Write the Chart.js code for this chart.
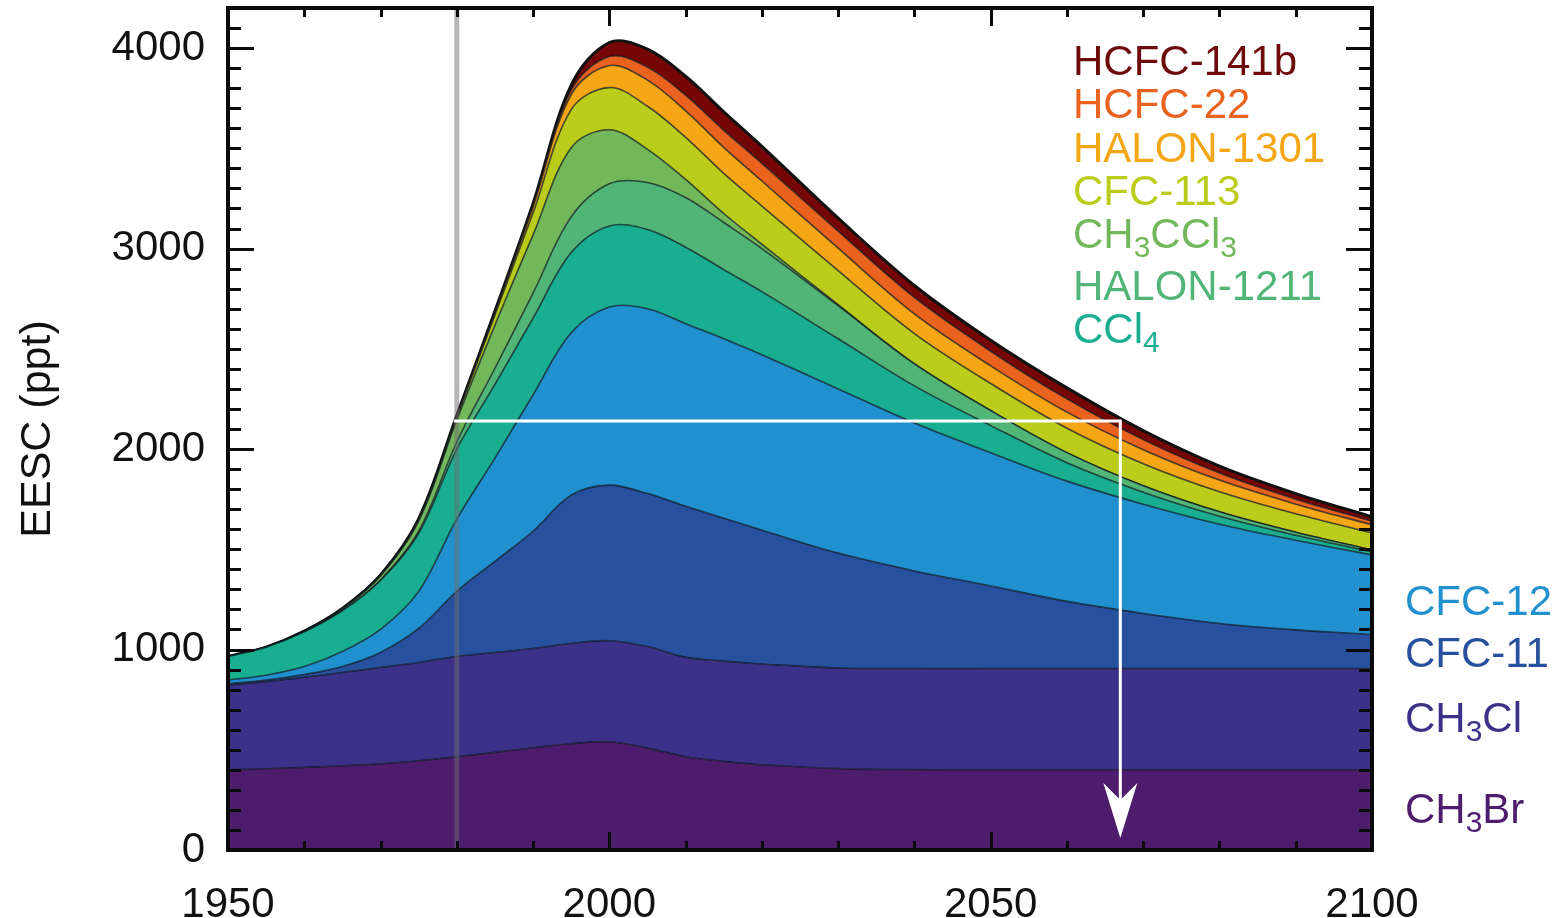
<!DOCTYPE html>
<html><head><meta charset="utf-8">
<script src="https://cdn.jsdelivr.net/npm/chart.js@4.4.1/dist/chart.umd.min.js"></script>
<style>html,body{margin:0;padding:0;background:#fff;}canvas{display:block;}</style>
</head><body>
<canvas id="c" width="1561" height="918"></canvas>
<script>
// ---- data (EESC contribution in ppt, by species) ----
const years     = [1950,1955,1960,1965,1970,1975,1980,1985,1990,1995,2000,2005,2010,2015,2020,2030,2040,2050,2060,2070,2080,2090,2100];
const CH3Br     = [400,405,412,420,430,445,465,487,510,530,540,508,465,442,425,406,401,400,400,400,400,400,400];
const CH3Cl     = [423,435,450,465,480,490,500,498,495,500,504,507,497,500,503,502,504,505,505,505,505,505,505];
const CFC11     = [7,8,13,30,75,170,325,455,585,740,776,763,753,713,667,573,487,412,335,275,225,193,170];
const CFC12     = [18,24,40,75,115,185,360,515,680,810,888,922,910,895,875,819,738,665,600,545,495,447,397];
const CCl4      = [117,140,173,204,245,290,350,368,383,400,405,395,382,345,315,250,185,135,92,60,40,25,15];
const HALON1211 = [0,0,0,0,2,10,35,80,125,178,210,235,248,235,215,165,110,75,50,32,22,15,10];
const CH3CCl3   = [0,0,3,8,20,50,110,215,290,345,270,165,90,45,22,5,1,0,0,0,0,0,0];
const CFC113    = [0,0,0,1,2,8,15,50,110,190,210,215,210,200,190,170,150,135,122,110,100,92,85];
const HALON1301 = [0,0,0,0,0,0,3,12,30,75,110,130,132,130,125,112,98,88,80,70,58,48,40];
const HCFC22    = [0,0,1,2,3,4,6,8,12,22,45,65,78,85,88,85,82,73,66,50,35,25,18];
const HCFC141b  = [0,0,0,0,0,0,0,0,5,25,70,90,95,92,85,65,60,55,55,45,35,28,22];

const seriesNames = ['CH3Br','CH3Cl','CFC-11','CFC-12','CCl4','HALON-1211','CH3CCl3','CFC-113','HALON-1301','HCFC-22','HCFC-141b'];
const xTickValues = [1950,2000,2050,2100];
const yTickValues = [0,1000,2000,3000,4000];
const yAxisTitle = 'EESC (ppt)';
const refYear = 1980;        // gray vertical line
const thresholdEESC = 2140;  // 1980 level (white line)
const recoveryYear = 2067;   // return to 1980 level
const arrowEndEESC = 60;

// ---- styles ----
const seriesColors = ['#4d1c6d','#3b3189','#27509f','#2190cf','#18ae8f','#52b578','#72b85b','#bccc1a','#f4a615','#e9621e','#760606'];
const FONT = "'Liberation Sans', Arial, Helvetica, sans-serif";
const seriesData = [CH3Br, CH3Cl, CFC11, CFC12, CCl4, HALON1211, CH3CCl3, CFC113, HALON1301, HCFC22, HCFC141b];
const last = seriesData.length - 1;

const datasets = seriesData.map((arr, i) => ({
  label: seriesNames[i],
  data: years.map((yr, j) => ({x: yr, y: arr[j]})),
  backgroundColor: seriesColors[i],
  borderColor: i === last ? '#111111' : 'rgba(12,22,30,0.72)',
  borderWidth: i === last ? 3 : 1.6,
  fill: i === 0 ? 'origin' : '-1',
  pointRadius: 0,
  tension: 0.35
}));

function drawRich(ctx, x, y, parts, color, size, subSize, subDrop) {
  ctx.fillStyle = color;
  ctx.textBaseline = 'alphabetic';
  ctx.textAlign = 'left';
  for (const [t, sub] of parts) {
    ctx.font = (sub ? subSize : size) + 'px ' + FONT;
    ctx.fillText(t, x, sub ? y + subDrop : y);
    x += ctx.measureText(t).width;
  }
}

const overlay = {
  id: 'overlay',
  afterDatasetsDraw(chart) {
    const {ctx, chartArea: ca, scales: {x, y}} = chart;
    ctx.save();
    // gray vertical reference line
    const gx = x.getPixelForValue(refYear);
    ctx.fillStyle = 'rgba(110,110,110,0.5)';
    ctx.fillRect(gx - 2.5, ca.top, 5, ca.bottom - ca.top);
    // white line + arrow
    const ty = y.getPixelForValue(thresholdEESC);
    const ax = x.getPixelForValue(recoveryYear);
    const ay = y.getPixelForValue(arrowEndEESC);
    ctx.strokeStyle = '#ffffff';
    ctx.lineWidth = 3;
    ctx.beginPath();
    ctx.moveTo(gx - 3, ty); ctx.lineTo(ax, ty); ctx.lineTo(ax, ay - 35);
    ctx.stroke();
    ctx.fillStyle = '#ffffff';
    ctx.beginPath();
    ctx.moveTo(ax, ay); ctx.lineTo(ax - 17, ay - 55); ctx.lineTo(ax, ay - 38); ctx.lineTo(ax + 17, ay - 55);
    ctx.closePath(); ctx.fill();
    // frame
    ctx.strokeStyle = '#0a0a0a';
    ctx.lineWidth = 4;
    ctx.strokeRect(ca.left, ca.top, ca.right - ca.left, ca.bottom - ca.top);
    // inward ticks
    ctx.lineWidth = 3;
    ctx.beginPath();
    for (let v = 100; v <= y.max; v += 100) {
      const py = Math.round(y.getPixelForValue(v)) + 0.5;
      const len = v % 1000 === 0 ? 26 : 13;
      ctx.moveTo(ca.left, py); ctx.lineTo(ca.left + len, py);
      ctx.moveTo(ca.right, py); ctx.lineTo(ca.right - len, py);
    }
    for (let yr = 1960; yr < 2100; yr += 10) {
      const px = Math.round(x.getPixelForValue(yr)) + 0.5;
      const len = yr % 50 === 0 ? 18 : 9;
      ctx.moveTo(px, ca.bottom); ctx.lineTo(px, ca.bottom - len);
      ctx.moveTo(px, ca.top); ctx.lineTo(px, ca.top + len);
    }
    ctx.stroke();
    ctx.restore();
  },
  afterDraw(chart) {
    const ctx = chart.ctx;
    ctx.save();
    const S = 42, SS = 30, D = 9;
    const L = 1073;
    drawRich(ctx, L, 75,  [['HCFC-141b',0]], '#6e0a0a', S, SS, D);
    drawRich(ctx, L, 118, [['HCFC-22',0]], '#e9621e', S, SS, D);
    drawRich(ctx, L, 162, [['HALON-1301',0]], '#f4a615', S, SS, D);
    drawRich(ctx, L, 205, [['CFC-113',0]], '#bccc1a', S, SS, D);
    drawRich(ctx, L, 248, [['CH',0],['3',1],['CCl',0],['3',1]], '#72b85b', S, SS, D);
    drawRich(ctx, L, 300, [['HALON-1211',0]], '#52b578', S, SS, D);
    drawRich(ctx, L, 343, [['CCl',0],['4',1]], '#18ae8f', S, SS, D);
    const R = 1405;
    drawRich(ctx, R, 615, [['CFC-12',0]], '#2190cf', S, SS, D);
    drawRich(ctx, R, 667, [['CFC-11',0]], '#27509f', S, SS, D);
    drawRich(ctx, R, 732, [['CH',0],['3',1],['Cl',0]], '#3b3189', S, SS, D);
    drawRich(ctx, R, 823, [['CH',0],['3',1],['Br',0]], '#4d1c6d', S, SS, D);
    ctx.restore();
  }
};

new Chart(document.getElementById('c'), {
  type: 'line',
  data: {datasets},
  plugins: [overlay],
  options: {
    responsive: false,
    animation: false,
    events: [],
    layout: {padding: {top: 8, right: 189, bottom: 0, left: 0}},
    plugins: {legend: {display: false}, tooltip: {enabled: false}},
    elements: {line: {borderJoinStyle: 'round'}},
    scales: {
      x: {
        type: 'linear', min: 1950, max: 2100,
        grid: {display: false, drawTicks: false},
        border: {display: false},
        afterBuildTicks: s => { s.ticks = xTickValues.map(v => ({value: v})); },
        ticks: {font: {family: FONT, size: 42}, color: '#111', padding: 30, maxRotation: 0, autoSkip: false,
                callback: v => String(v)},
        afterFit: s => { s.height = 68; s.paddingLeft = 0; s.paddingRight = 0; }
      },
      y: {
        stacked: true, min: 0, max: 4200,
        grid: {display: false, drawTicks: false},
        border: {display: false},
        afterBuildTicks: s => { s.ticks = yTickValues.map(v => ({value: v})); },
        ticks: {font: {family: FONT, size: 42}, color: '#111', padding: 23, autoSkip: false,
                callback: v => String(v)},
        title: {display: true, text: yAxisTitle, font: {family: FONT, size: 43}, color: '#111', padding: {top: 12, bottom: 0}},
        afterFit: s => { s.width = 228; s.paddingTop = 0; s.paddingBottom = 0; }
      }
    }
  }
});
</script>
</body></html>
